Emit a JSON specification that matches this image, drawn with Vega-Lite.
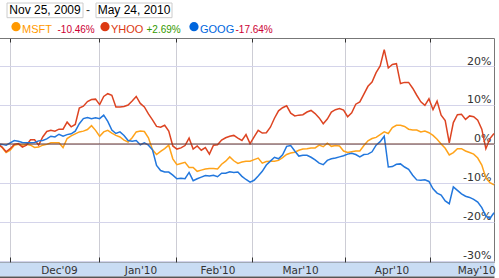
{
"$schema":"https://vega.github.io/schema/vega-lite/v6.json",
"padding":{"left":-6,"right":0,"top":0,"bottom":0},
"spacing":0,
"background":"white",
"config":{"font":"Liberation Sans","view":{"stroke":null}},
"datasets":{
"prices":[
{"i":0,"MSFT":0,"YHOO":0,"GOOG":0},
{"i":1,"MSFT":-0.9,"YHOO":-0.8,"GOOG":-0.1},
{"i":2,"MSFT":-2.2,"YHOO":-2.0,"GOOG":-0.3},
{"i":3,"MSFT":-1.6,"YHOO":-1.2,"GOOG":0.3},
{"i":4,"MSFT":-0.3,"YHOO":-0.1,"GOOG":0.9},
{"i":5,"MSFT":-0.1,"YHOO":0.1,"GOOG":0.7},
{"i":6,"MSFT":-0.3,"YHOO":-0.8,"GOOG":0.4},
{"i":7,"MSFT":-0.1,"YHOO":-0.3,"GOOG":0.3},
{"i":8,"MSFT":-0.3,"YHOO":1.1,"GOOG":0.3},
{"i":9,"MSFT":-0.9,"YHOO":1.1,"GOOG":0.4},
{"i":10,"MSFT":-0.8,"YHOO":-0.3,"GOOG":0.8},
{"i":11,"MSFT":-0.3,"YHOO":1.8,"GOOG":0.9},
{"i":12,"MSFT":-0.1,"YHOO":3.2,"GOOG":1.3},
{"i":13,"MSFT":0.3,"YHOO":3.5,"GOOG":2.0},
{"i":14,"MSFT":0.3,"YHOO":3.3,"GOOG":1.8},
{"i":15,"MSFT":0.3,"YHOO":3.8,"GOOG":2.5},
{"i":16,"MSFT":-0.9,"YHOO":3.8,"GOOG":2.0},
{"i":17,"MSFT":1.4,"YHOO":5.6,"GOOG":2.4},
{"i":18,"MSFT":2.1,"YHOO":4.4,"GOOG":2.6},
{"i":19,"MSFT":2.6,"YHOO":5.0,"GOOG":3.3},
{"i":20,"MSFT":3.1,"YHOO":9.2,"GOOG":5.2},
{"i":21,"MSFT":3.3,"YHOO":9.7,"GOOG":6.5},
{"i":22,"MSFT":3.7,"YHOO":10.9,"GOOG":6.8},
{"i":23,"MSFT":4.7,"YHOO":11.4,"GOOG":6.5},
{"i":24,"MSFT":3.5,"YHOO":11.5,"GOOG":6.7},
{"i":25,"MSFT":2.0,"YHOO":10.1,"GOOG":6.5},
{"i":26,"MSFT":3.1,"YHOO":12.2,"GOOG":7.4},
{"i":27,"MSFT":3.5,"YHOO":12.9,"GOOG":5.8},
{"i":28,"MSFT":2.8,"YHOO":12.5,"GOOG":3.6},
{"i":29,"MSFT":2.2,"YHOO":9.5,"GOOG":2.7},
{"i":30,"MSFT":1.8,"YHOO":9.5,"GOOG":3.1},
{"i":31,"MSFT":1.0,"YHOO":9.6,"GOOG":2.2},
{"i":32,"MSFT":0.5,"YHOO":10.0,"GOOG":0.9},
{"i":33,"MSFT":1.6,"YHOO":11.0,"GOOG":0.7},
{"i":34,"MSFT":3.1,"YHOO":12.2,"GOOG":0.9},
{"i":35,"MSFT":3.3,"YHOO":10.4,"GOOG":-0.2},
{"i":36,"MSFT":3.2,"YHOO":9.5,"GOOG":0.3},
{"i":37,"MSFT":1.6,"YHOO":7.7,"GOOG":-0.3},
{"i":38,"MSFT":-1.5,"YHOO":6.2,"GOOG":-1.5},
{"i":39,"MSFT":-2.7,"YHOO":4.5,"GOOG":-5.5},
{"i":40,"MSFT":-1.9,"YHOO":4.3,"GOOG":-6.8},
{"i":41,"MSFT":-1.2,"YHOO":4.8,"GOOG":-7.2},
{"i":42,"MSFT":-0.3,"YHOO":3.3,"GOOG":-7.2},
{"i":43,"MSFT":-3.8,"YHOO":-0.5,"GOOG":-8.0},
{"i":44,"MSFT":-5.3,"YHOO":-1.3,"GOOG":-8.9},
{"i":45,"MSFT":-5.0,"YHOO":-1.0,"GOOG":-8.8},
{"i":46,"MSFT":-4.7,"YHOO":-0.4,"GOOG":-8.9},
{"i":47,"MSFT":-6.0,"YHOO":1.5,"GOOG":-7.3},
{"i":48,"MSFT":-6.0,"YHOO":-1.3,"GOOG":-9.4},
{"i":49,"MSFT":-7.0,"YHOO":-0.5,"GOOG":-8.9},
{"i":50,"MSFT":-6.7,"YHOO":-1.6,"GOOG":-8.5},
{"i":51,"MSFT":-6.4,"YHOO":-0.9,"GOOG":-8.1},
{"i":52,"MSFT":-6.3,"YHOO":-2.6,"GOOG":-8.2},
{"i":53,"MSFT":-6.3,"YHOO":-0.3,"GOOG":-8.0},
{"i":54,"MSFT":-6.4,"YHOO":-0.2,"GOOG":-8.4},
{"i":55,"MSFT":-5.2,"YHOO":1.0,"GOOG":-7.5},
{"i":56,"MSFT":-4.4,"YHOO":1.6,"GOOG":-7.5},
{"i":57,"MSFT":-3.3,"YHOO":2.0,"GOOG":-7.1},
{"i":58,"MSFT":-4.3,"YHOO":2.2,"GOOG":-7.3},
{"i":59,"MSFT":-5.0,"YHOO":1.5,"GOOG":-7.2},
{"i":60,"MSFT":-4.6,"YHOO":0.9,"GOOG":-8.3},
{"i":61,"MSFT":-4.4,"YHOO":2.4,"GOOG":-9.1},
{"i":62,"MSFT":-4.4,"YHOO":0.1,"GOOG":-9.8},
{"i":63,"MSFT":-4.0,"YHOO":1.8,"GOOG":-9.3},
{"i":64,"MSFT":-3.6,"YHOO":3.5,"GOOG":-8.2},
{"i":65,"MSFT":-4.9,"YHOO":2.8,"GOOG":-7.0},
{"i":66,"MSFT":-4.5,"YHOO":2.9,"GOOG":-5.4},
{"i":67,"MSFT":-4.4,"YHOO":4.3,"GOOG":-4.4},
{"i":68,"MSFT":-4.4,"YHOO":6.6,"GOOG":-3.4},
{"i":69,"MSFT":-4.2,"YHOO":8.5,"GOOG":-3.8},
{"i":70,"MSFT":-3.5,"YHOO":9.3,"GOOG":-2.8},
{"i":71,"MSFT":-2.7,"YHOO":9.8,"GOOG":-0.6},
{"i":72,"MSFT":-2.3,"YHOO":7.9,"GOOG":-0.4},
{"i":73,"MSFT":-2.1,"YHOO":7.2,"GOOG":-1.8},
{"i":74,"MSFT":-1.6,"YHOO":7.4,"GOOG":-3.1},
{"i":75,"MSFT":-1.3,"YHOO":7.5,"GOOG":-2.9},
{"i":76,"MSFT":-1.2,"YHOO":8.2,"GOOG":-2.9},
{"i":77,"MSFT":-1.0,"YHOO":8.6,"GOOG":-3.4},
{"i":78,"MSFT":-1.0,"YHOO":7.8,"GOOG":-4.1},
{"i":79,"MSFT":-0.3,"YHOO":6.7,"GOOG":-4.9},
{"i":80,"MSFT":-0.7,"YHOO":5.2,"GOOG":-5.3},
{"i":81,"MSFT":0.2,"YHOO":6.4,"GOOG":-4.2},
{"i":82,"MSFT":-0.6,"YHOO":8.2,"GOOG":-3.8},
{"i":83,"MSFT":-0.4,"YHOO":8.8,"GOOG":-3.6},
{"i":84,"MSFT":-0.5,"YHOO":9.1,"GOOG":-3.3},
{"i":85,"MSFT":-1.8,"YHOO":8.7,"GOOG":-3.0},
{"i":86,"MSFT":-2.2,"YHOO":7.0,"GOOG":-2.6},
{"i":87,"MSFT":-2.0,"YHOO":8.0,"GOOG":-2.4},
{"i":88,"MSFT":-1.8,"YHOO":10.2,"GOOG":-2.7},
{"i":89,"MSFT":-1.8,"YHOO":10.8,"GOOG":-3.3},
{"i":90,"MSFT":-0.4,"YHOO":12.8,"GOOG":-2.7},
{"i":91,"MSFT":0.8,"YHOO":14.8,"GOOG":-2.6},
{"i":92,"MSFT":1.4,"YHOO":15.9,"GOOG":-2.0},
{"i":93,"MSFT":1.7,"YHOO":18.3,"GOOG":-0.3},
{"i":94,"MSFT":2.4,"YHOO":20.0,"GOOG":0.6},
{"i":95,"MSFT":3.1,"YHOO":24.2,"GOOG":2.0},
{"i":96,"MSFT":2.7,"YHOO":19.5,"GOOG":-5.9},
{"i":97,"MSFT":4.2,"YHOO":20.4,"GOOG":-5.8},
{"i":98,"MSFT":4.8,"YHOO":20.6,"GOOG":-5.2},
{"i":99,"MSFT":4.8,"YHOO":15.5,"GOOG":-5.1},
{"i":100,"MSFT":4.5,"YHOO":15.8,"GOOG":-5.9},
{"i":101,"MSFT":3.8,"YHOO":15.8,"GOOG":-6.5},
{"i":102,"MSFT":3.6,"YHOO":14.3,"GOOG":-8.0},
{"i":103,"MSFT":3.6,"YHOO":12.5,"GOOG":-9.2},
{"i":104,"MSFT":3.1,"YHOO":10.8,"GOOG":-9.3},
{"i":105,"MSFT":3.3,"YHOO":9.9,"GOOG":-9.2},
{"i":106,"MSFT":2.9,"YHOO":11.6,"GOOG":-9.6},
{"i":107,"MSFT":2.2,"YHOO":8.8,"GOOG":-11.5},
{"i":108,"MSFT":1.2,"YHOO":11.0,"GOOG":-12.6},
{"i":109,"MSFT":0.0,"YHOO":7.4,"GOOG":-13.1},
{"i":110,"MSFT":-1.1,"YHOO":6.0,"GOOG":-14.6},
{"i":111,"MSFT":-2.8,"YHOO":0.3,"GOOG":-15.3},
{"i":112,"MSFT":-2.2,"YHOO":5.5,"GOOG":-11.0},
{"i":113,"MSFT":-1.2,"YHOO":7.5,"GOOG":-11.9},
{"i":114,"MSFT":-1.2,"YHOO":7.6,"GOOG":-12.8},
{"i":115,"MSFT":-1.8,"YHOO":6.3,"GOOG":-13.4},
{"i":116,"MSFT":-2.2,"YHOO":7.2,"GOOG":-13.7},
{"i":117,"MSFT":-2.6,"YHOO":7.0,"GOOG":-14.2},
{"i":118,"MSFT":-3.6,"YHOO":6.1,"GOOG":-14.9},
{"i":119,"MSFT":-5.4,"YHOO":3.8,"GOOG":-16.3},
{"i":120,"MSFT":-8.7,"YHOO":-1.2,"GOOG":-18.5},
{"i":121,"MSFT":-9.9,"YHOO":1.4,"GOOG":-19.1},
{"i":122,"MSFT":-10.46,"YHOO":2.69,"GOOG":-17.64}
],
"legend":[{"s":"MSFT","pct":"-10.46%"},{"s":"YHOO","pct":"+2.69%"},{"s":"GOOG","pct":"-17.64%"}],
"range":[{"k":"from","t":"Nov 25, 2009"},{"k":"to","t":"May 24, 2010"}]
},
"resolve":{"scale":{"color":"independent"}},
"vconcat":[
{
"width":496,"height":37,
"layer":[
{"data":{"name":"range"},
 "mark":{"type":"rect","fill":"white","stroke":"#cccccc","strokeWidth":1},
 "encoding":{
  "x":{"field":"k","type":"nominal","scale":{"type":"band","range":[9,174],"paddingInner":0.146,"paddingOuter":0},"axis":null},
  "y":{"datum":"dates","type":"nominal","scale":{"type":"band","domain":["dates","legend"],"range":[3,34],"paddingInner":0.1,"paddingOuter":0},"axis":null}}},
{"data":{"name":"range"},
 "mark":{"type":"text","align":"center","baseline":"middle","fontSize":12,"color":"#000000","font":"Liberation Sans"},
 "encoding":{
  "x":{"field":"k","type":"nominal","scale":{"type":"band","range":[9,174],"paddingInner":0.146,"paddingOuter":0},"axis":null},
  "y":{"datum":"dates","type":"nominal","axis":null},
  "text":{"field":"t"}}},
{"data":{"name":"range"},
 "transform":[{"filter":"datum.k == 'from'"}],
 "mark":{"type":"text","text":"-","align":"center","baseline":"middle","fontSize":12,"dx":5,"color":"#333333"},
 "encoding":{
  "x":{"field":"k","type":"nominal","bandPosition":1,"scale":{"type":"band","domain":["from","to"],"range":[9,174],"paddingInner":0.146,"paddingOuter":0},"axis":null},
  "y":{"datum":"dates","type":"nominal","axis":null}}},
{"data":{"name":"legend"},
 "mark":{"type":"circle","size":85,"opacity":1},
 "encoding":{
  "x":{"field":"s","type":"nominal","sort":null,"scale":{"type":"point","range":[18,196],"padding":0},"axis":null},
  "y":{"datum":"legend","type":"nominal","axis":null},
  "color":{"field":"s","type":"nominal","scale":{"domain":["MSFT","YHOO","GOOG"],"range":["#ff9900","#dc3912","#0066dd"]},"legend":null}}},
{"data":{"name":"legend"},
 "mark":{"type":"text","align":"left","baseline":"alphabetic","fontSize":11,"dx":6,"dy":6},
 "encoding":{
  "x":{"field":"s","type":"nominal","sort":null,"scale":{"type":"point","range":[18,196],"padding":0},"axis":null},
  "y":{"datum":"legend","type":"nominal","axis":null},
  "text":{"field":"s"},
  "color":{"field":"s","type":"nominal","legend":null}}},
{"data":{"name":"legend"},
 "mark":{"type":"text","align":"left","baseline":"alphabetic","fontSize":10,"dx":41.5,"dy":6},
 "encoding":{
  "x":{"field":"s","type":"nominal","sort":null,"scale":{"type":"point","range":[18,196],"padding":0},"axis":null},
  "y":{"datum":"legend","type":"nominal","axis":null},
  "text":{"field":"pct"},
  "color":{"condition":{"test":"indexof(datum.pct, '+') == 0","value":"#339900"},"value":"#cc0033"}}}
],
"resolve":{"scale":{"x":"independent"}}
},
{
"width":496,"height":224,
"view":{"stroke":"#777777"},
"layer":[
{"data":{"name":"prices"},
 "transform":[{"fold":["MSFT","YHOO","GOOG"],"as":["s","v"]}],
 "mark":{"type":"line","strokeWidth":1.5},
 "encoding":{
  "x":{"field":"i","type":"quantitative","scale":{"domain":[0,122],"nice":false,"zero":false},
   "axis":{"orient":"top","values":[2.95,24.84,43.78,62.47,85.34,106.25],"grid":true,"gridColor":"#cdcdd5","gridWidth":1,"labels":false,"domain":false,"ticks":true,"tickSize":-4,"tickColor":"#333333","title":null}},
  "y":{"field":"v","type":"quantitative","scale":{"domain":[-30.26,27.18],"nice":false,"zero":false},
   "axis":{"orient":"right","values":[-30,-20,-10,0,10,20],"grid":true,"gridColor":"#d4d4ea","ticks":false,"domain":false,"labelAlign":"right","labelPadding":-3,"labelBaseline":"alphabetic","labelOffset":-2,"labelExpr":"datum.value + '%'","labelFont":"DejaVu Sans","labelFontSize":11,"labelColor":"#333333","title":null}},
  "color":{"field":"s","type":"nominal","sort":null,"scale":{"domain":["MSFT","YHOO","GOOG"],"range":["#ffa31a","#dd4422","#2277dd"]},"legend":null}}},
{"data":{"values":[{}]},
 "mark":{"type":"rule","color":"#6b3a30","strokeWidth":1},
 "encoding":{
  "x":{"datum":0,"type":"quantitative",
   "axis":{"orient":"bottom","offset":7,"domain":true,"domainCap":"butt","domainColor":"#c9dcf3","domainWidth":14,"labels":false,"ticks":false,"grid":false,"title":null}},
  "x2":{"datum":122},
  "y":{"datum":0,"type":"quantitative","axis":null}}},
{"data":{"values":[{}]},
 "mark":{"type":"point","opacity":0,"size":0,"strokeWidth":0},
 "encoding":{
  "x":{"datum":61,"type":"quantitative",
   "axis":{"orient":"bottom","values":[15,35.05,54,74.3,96.8,117.6],"labelExpr":"datum.value < 20 ? \"Dec'09\" : datum.value < 40 ? \"Jan'10\" : datum.value < 60 ? \"Feb'10\" : datum.value < 80 ? \"Mar'10\" : datum.value < 100 ? \"Apr'10\" : \"May'10\"","ticks":false,"grid":false,"domain":false,"offset":7,"labelPadding":1,"labelBaseline":"middle","labelAlign":"center","labelFlush":false,"labelOverlap":false,"labelFont":"DejaVu Sans","labelFontSize":10.5,"labelColor":"#333333","title":null}},
  "y":{"datum":0,"type":"quantitative","axis":null}}},
{"data":{"values":[{}]},
 "mark":{"type":"point","opacity":0,"size":0,"strokeWidth":0},
 "encoding":{
  "x":{"datum":61,"type":"quantitative",
   "axis":{"orient":"bottom","values":[2.95,24.84,43.78,62.47,85.34,106.25],"labels":false,"grid":false,"domain":false,"ticks":true,"tickSize":-5,"tickColor":"#333333","title":null}},
  "y":{"datum":0,"type":"quantitative","axis":null}}},
{"data":{"values":[{}]},
 "mark":{"type":"point","opacity":0,"size":0,"strokeWidth":0},
 "encoding":{
  "x":{"datum":61,"type":"quantitative",
   "axis":{"orient":"bottom","offset":15,"domain":true,"domainCap":"butt","domainColor":"#555555","domainWidth":2,"labels":false,"ticks":false,"grid":false,"title":null}},
  "y":{"datum":0,"type":"quantitative","axis":null}}}
],
"resolve":{"axis":{"x":"independent","y":"independent"}}
}
]
}
